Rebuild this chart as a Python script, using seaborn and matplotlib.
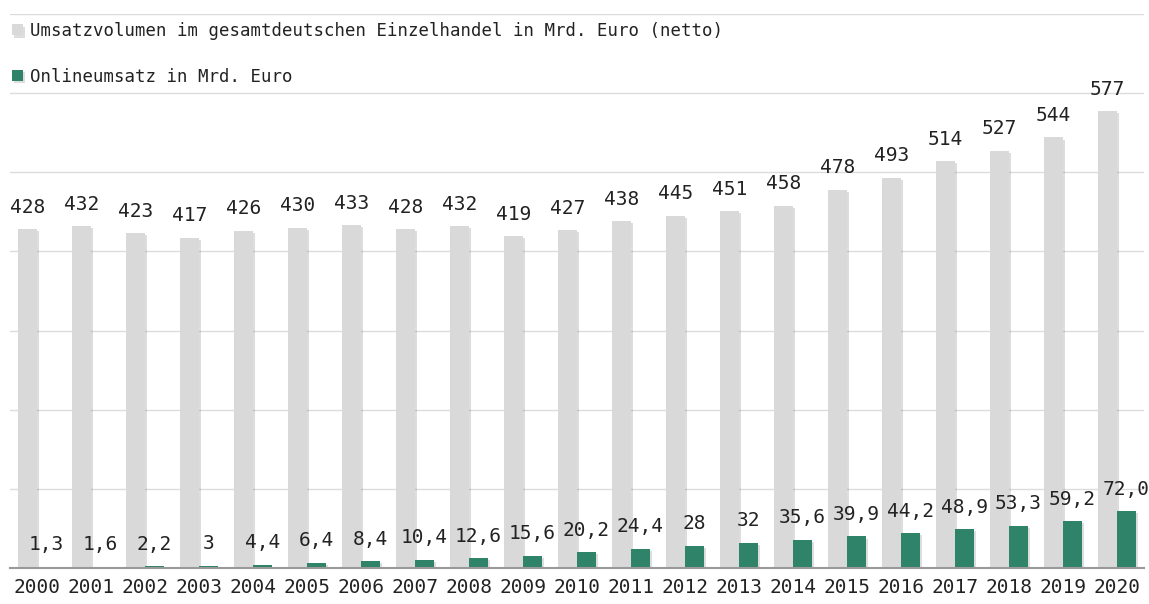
import pandas as pd
import seaborn as sns
import matplotlib.pyplot as plt
import matplotlib.patheffects as pe

sns.set_theme(style="white")
plt.rcParams["font.family"] = ["DejaVu Sans Mono"]

# data
years = [str(y) for y in range(2000, 2021)]
total = [428, 432, 423, 417, 426, 430, 433, 428, 432, 419, 427, 438, 445, 451, 458, 478, 493, 514, 527, 544, 577]
online = [1.3, 1.6, 2.2, 3, 4.4, 6.4, 8.4, 10.4, 12.6, 15.6, 20.2, 24.4, 28, 32, 35.6, 39.9, 44.2, 48.9, 53.3, 59.2, 72.0]
online_labels = ["1,3", "1,6", "2,2", "3", "4,4", "6,4", "8,4", "10,4", "12,6", "15,6", "20,2",
                 "24,4", "28", "32", "35,6", "39,9", "44,2", "48,9", "53,3", "59,2", "72,0"]
series = ["Umsatzvolumen im gesamtdeutschen Einzelhandel in Mrd. Euro (netto)",
          "Onlineumsatz in Mrd. Euro"]
colors = ["#d9d9d9", "#2e8368"]

df = pd.DataFrame({
    "Jahr": years * 2,
    "Wert": total + online,
    "Serie": [series[0]] * len(years) + [series[1]] * len(years),
})

fig = plt.figure(figsize=(11.49, 6.04), dpi=100)
ax = fig.add_axes([0.0087, 0.0596, 0.987, 0.9172])

sns.barplot(data=df, x="Jahr", y="Wert", hue="Serie", palette=colors, width=0.7,
            saturation=1, ax=ax)

for bar in ax.patches:
    bar.set_linewidth(0)
    bar.set_path_effects([pe.SimplePatchShadow(offset=(1.5, -1.5), alpha=0.18, shadow_rgbFace="#444444"),
                          pe.Normal()])

ax.bar_label(ax.containers[0], labels=[str(v) for v in total], padding=9, fontsize=14, color="#222222")
ax.bar_label(ax.containers[1], labels=online_labels, padding=9, fontsize=14, color="#222222")

ax.set_ylim(0, 700)
ax.set_xlim(-0.5, 20.5)
ax.set_yticks(range(0, 701, 100))
ax.yaxis.grid(True, color="#dcdcdc", lw=1)
ax.set_axisbelow(True)
ax.tick_params(axis="y", left=False, labelleft=False)
ax.tick_params(axis="x", bottom=False, pad=1, labelsize=14, labelcolor="#222222")
ax.set_xlabel("")
ax.set_ylabel("")
for s in ["top", "left", "right"]:
    ax.spines[s].set_visible(False)
ax.spines["bottom"].set_color("#999999")
ax.spines["bottom"].set_linewidth(1.5)

leg = ax.legend(loc="upper left", bbox_to_anchor=(-0.004, 0.998), frameon=False, fontsize=12.5,
                handlelength=0.6, handleheight=0.6, handletextpad=0.4, labelspacing=1.6,
                borderaxespad=0)
for t in leg.get_texts():
    t.set_color("#222222")

fig.savefig("out.png", dpi=100)
